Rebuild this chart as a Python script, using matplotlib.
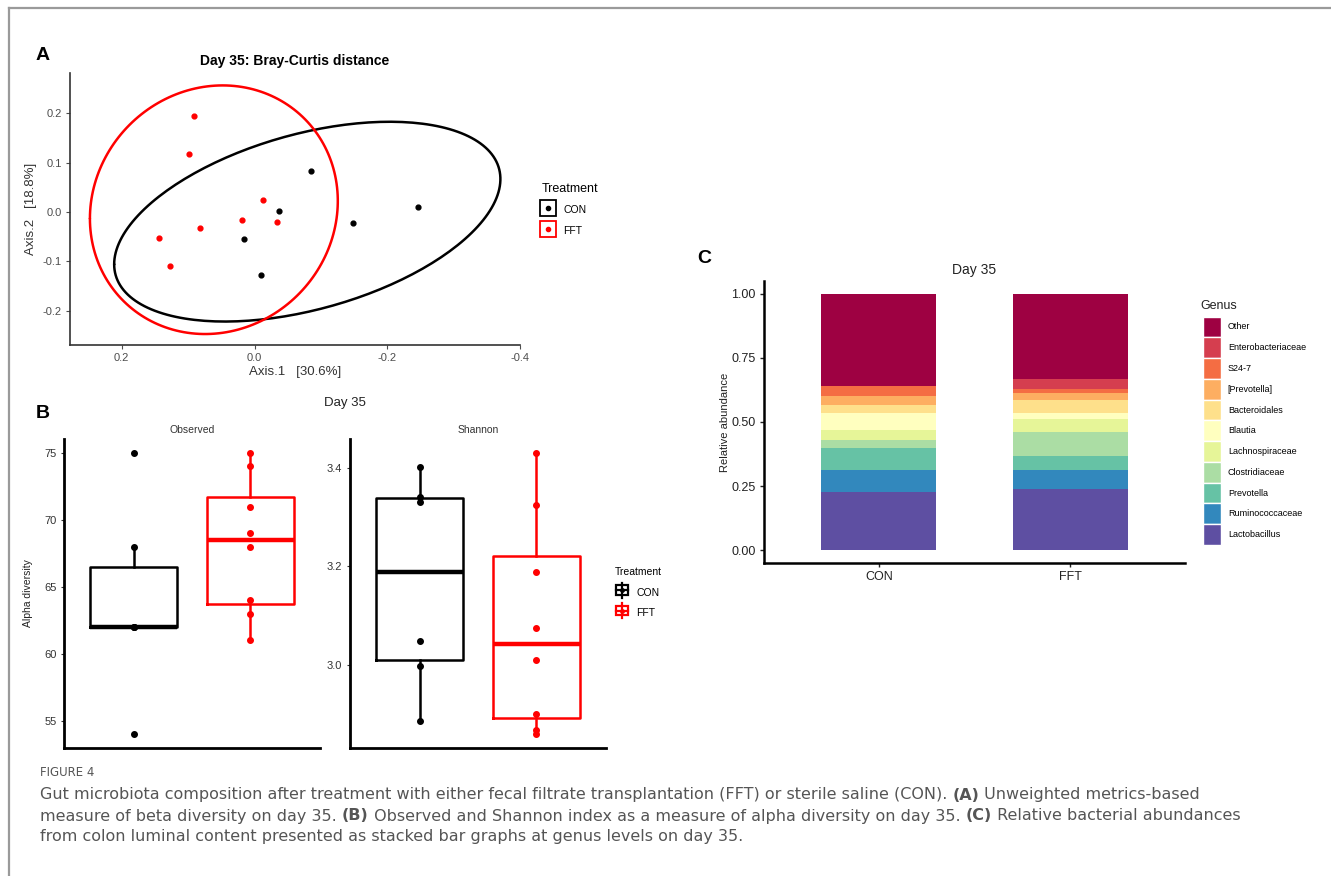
import numpy as np
import matplotlib
matplotlib.use('Agg')
import matplotlib.pyplot as plt
from matplotlib.lines import Line2D
from matplotlib.patches import Rectangle, Patch

plt.rcParams['font.family'] = ['Liberation Sans', 'DejaVu Sans']

W, H = 1331, 876

# ---- data ----
# panel A: PCoA coordinates (Axis.1, Axis.2)
con_ax1 = [-0.0844, -0.0362, 0.0151, -0.0101, -0.1487, -0.2457]
con_ax2 = [0.0831, 0.0020, -0.0554, -0.1277, -0.0216, 0.0095]
fft_ax1 = [0.0915, 0.0985, -0.0131, 0.0186, -0.0337, 0.0814, 0.1442, 0.1276]
fft_ax2 = [0.1950, 0.1176, 0.0250, -0.0155, -0.0210, -0.0318, -0.0520, -0.1095]

# panel B: alpha diversity
con_observed = [54, 62, 62, 62, 68, 75]
fft_observed = [61, 63, 64, 68, 69, 71, 74, 75]
con_shannon = [2.885, 2.997, 3.048, 3.331, 3.341, 3.402]
fft_shannon = [2.860, 2.868, 2.900, 3.010, 3.075, 3.188, 3.325, 3.431]

# panel C: relative abundance, stacked bottom -> top
genera = ['Lactobacillus', 'Ruminococcaceae', 'Prevotella', 'Clostridiaceae',
          'Lachnospiraceae', 'Blautia', 'Bacteroidales', '[Prevotella]',
          'S24-7', 'Enterobacteriaceae', 'Other']
con_abund = [0.228, 0.086, 0.086, 0.029, 0.041, 0.064, 0.031, 0.037, 0.038, 0.002, 0.358]
fft_abund = [0.239, 0.072, 0.058, 0.091, 0.051, 0.023, 0.052, 0.028, 0.016, 0.037, 0.333]
genus_colors = ['#5E4FA2', '#3288BD', '#66C2A5', '#ABDDA4', '#E6F598', '#FFFFBF',
                '#FEE08B', '#FDAE61', '#F46D43', '#D53E4F', '#9E0142']
groups = ['CON', 'FFT']
group_colors = ['black', 'red']


def box(l, t, r, b):
    return [l / W, 1 - b / H, (r - l) / W, (b - t) / H]


def cov_trob(xy, nu=5, maxit=25, tol=0.01):
    # multivariate t robust covariance (like MASS::cov.trob)
    n, p = xy.shape
    wt = np.ones(n)
    loc = xy.mean(0)
    w = np.sqrt(wt)
    for _ in range(maxit):
        w0 = w
        X = xy - loc
        _, d, vt = np.linalg.svd(np.sqrt(w / w.sum())[:, None] * X, full_matrices=False)
        wX = X @ vt.T @ np.diag(1 / d)
        Q = (wX ** 2).sum(1)
        w = wt * (nu + p) / (nu + Q)
        loc = (w[:, None] * xy).sum(0) / w.sum()
        if np.all(np.abs(w - w0) < tol):
            break
    sX = np.sqrt(w)[:, None] * X
    return loc, sX.T @ sX / wt.sum()


def t_ellipse(x, y, level=0.95, seg=200):
    xy = np.column_stack([x, y])
    loc, cov = cov_trob(xy)
    m = len(x) - 1
    qf = (m / 2) * ((1 - level) ** (-2 / m) - 1)
    r = np.sqrt(2 * qf)
    a = np.linspace(0, 2 * np.pi, seg)
    circ = np.column_stack([np.cos(a), np.sin(a)])
    R = np.linalg.cholesky(cov).T
    e = loc + r * circ @ R
    return e[:, 0], e[:, 1]


def style_axes(ax, lw, col):
    for s in ['top', 'right']:
        ax.spines[s].set_visible(False)
    for s in ['left', 'bottom']:
        ax.spines[s].set_linewidth(lw)
        ax.spines[s].set_color(col)


fig = plt.figure(figsize=(W / 100, H / 100), dpi=100)

# border of figure frame
fig.add_artist(Line2D([9 / W, 1], [1 - 8 / H, 1 - 8 / H], color='#9a9a9a', lw=1.6))
fig.add_artist(Line2D([9 / W, 9 / W], [1 - 8 / H, 0], color='#9a9a9a', lw=1.6))

# ---------- panel A ----------
axA = fig.add_axes(box(70, 73, 520, 345))
style_axes(axA, 1.2, '#333333')
for xs, ys, c in [(con_ax1, con_ax2, 'black'), (fft_ax1, fft_ax2, 'red')]:
    ex, ey = t_ellipse(xs, ys)
    axA.plot(ex, ey, color=c, lw=1.8, solid_capstyle='round')
    axA.scatter(xs, ys, s=12, color=c, zorder=3)
axA.set_xlim(0.278, -0.4)
axA.set_ylim(-0.269, 0.281)
axA.set_xticks([0.2, 0.0, -0.2, -0.4])
axA.set_xticklabels(['0.2', '0.0', '-0.2', '-0.4'])
axA.set_yticks([-0.2, -0.1, 0.0, 0.1, 0.2])
axA.set_yticklabels(['-0.2', '-0.1', '0.0', '0.1', '0.2'])
axA.tick_params(labelsize=8, colors='#4D4D4D', length=3, width=0.8, pad=3)
axA.set_xlabel('Axis.1   [30.6%]', fontsize=9.5, color='#333333', labelpad=2)
axA.set_ylabel('Axis.2   [18.8%]', fontsize=9.5, color='#333333', labelpad=4)
axA.set_title('Day 35: Bray-Curtis distance', fontsize=10, fontweight='bold', pad=6)
hA = [(Line2D([], [], ls='', marker='s', ms=11, mfc='none', mec=c, mew=1.3),
       Line2D([], [], ls='', marker='o', ms=3, color=c)) for c in group_colors]
legA = axA.legend(hA, groups, title='Treatment', loc='upper left',
                  bbox_to_anchor=(536 / W, 1 - 178 / H), bbox_transform=fig.transFigure,
                  frameon=False, fontsize=7.5, title_fontsize=9, handlelength=1.3,
                  handleheight=1.5, handletextpad=0.8, labelspacing=0.8, borderpad=0,
                  alignment='left')

fig.text(36 / W, 1 - 55 / H, 'A', fontsize=14, fontweight='bold', va='center')
fig.text(36 / W, 1 - 413 / H, 'B', fontsize=14, fontweight='bold', va='center')
fig.text(697 / W, 1 - 258 / H, 'C', fontsize=14, fontweight='bold', va='center')

# ---------- panel B ----------
fig.text(345 / W, 1 - 403 / H, 'Day 35', fontsize=9.5, ha='center', va='center', color='#222222')


def alpha_panel(rect, data, title, ylim, yticks, ylabels):
    ax = fig.add_axes(box(*rect))
    style_axes(ax, 2.0, 'black')
    for i, (vals, c) in enumerate(zip(data, group_colors)):
        ax.boxplot([vals], positions=[i + 1], widths=0.75, showcaps=False,
                   showfliers=False,
                   boxprops=dict(color=c, lw=1.8),
                   whiskerprops=dict(color=c, lw=1.8),
                   medianprops=dict(color=c, lw=3.2))
        ax.scatter([i + 1] * len(vals), vals, s=16, color=c, zorder=3)
    ax.set_xlim(0.4, 2.6)
    ax.set_ylim(*ylim)
    ax.set_xticks([])
    ax.set_yticks(yticks)
    ax.set_yticklabels(ylabels)
    ax.tick_params(axis='y', labelsize=8, colors='#333333', length=2.5, width=0.8, pad=3)
    ax.set_title(title, fontsize=7.5, color='#333333', pad=4)
    return ax


axB1 = alpha_panel((64, 439, 320, 748), [con_observed, fft_observed], 'Observed',
                   (52.95, 76.05), [55, 60, 65, 70, 75], ['55', '60', '65', '70', '75'])
axB1.set_ylabel('Alpha diversity', fontsize=7.5, color='#222222', labelpad=8)
axB2 = alpha_panel((350, 439, 606, 748), [con_shannon, fft_shannon], 'Shannon',
                   (2.8305, 3.4595), [3.0, 3.2, 3.4], ['3.0', '3.2', '3.4'])


class BoxKey:
    def legend_artist(self, legend, orig_handle, fontsize, handlebox):
        c = orig_handle.get_color()
        x0, y0 = handlebox.xdescent, handlebox.ydescent
        w, h = handlebox.width, handlebox.height
        tr = handlebox.get_transform()
        cx = x0 + w / 2
        vl = Line2D([cx, cx], [y0 - h * 0.3, y0 + h * 1.3], color=c, lw=1.6, transform=tr)
        rc = Rectangle((x0 + w * 0.05, y0), w * 0.9, h, fill=False,
                       ec=c, lw=1.6, transform=tr)
        hl = Line2D([x0 + w * 0.05, x0 + w * 0.95], [y0 + h / 2] * 2, color=c, lw=1.6, transform=tr)
        dt = Line2D([cx], [y0 + h / 2], marker='o', ms=2.5, color=c, transform=tr)
        for a in (vl, rc, hl, dt):
            handlebox.add_artist(a)
        return rc


hB = [Line2D([], [], color=c) for c in group_colors]
legB = axB2.legend(hB, groups, title='Treatment', loc='upper left',
                   bbox_to_anchor=(610 / W, 1 - 562 / H), bbox_transform=fig.transFigure,
                   frameon=False, fontsize=7.5, title_fontsize=7.5, handlelength=1.3,
                   handleheight=1.0, handletextpad=0.7, labelspacing=1.0, borderpad=0,
                   alignment='left', handler_map={Line2D: BoxKey()})

# ---------- panel C ----------
axC = fig.add_axes(box(764, 281, 1185, 563))
style_axes(axC, 1.8, 'black')
xpos = np.arange(1, len(groups) + 1)
bottom = np.zeros(len(groups))
for g, a_con, a_fft, col in zip(genera, con_abund, fft_abund, genus_colors):
    vals = np.array([a_con, a_fft])
    axC.bar(xpos, vals, width=0.6, bottom=bottom, color=col, label=g, lw=0)
    bottom += vals
axC.set_xlim(0.4, 2.6)
axC.set_ylim(-0.05, 1.05)
axC.set_xticks(xpos)
axC.set_xticklabels(groups)
axC.set_yticks([0, 0.25, 0.5, 0.75, 1.0])
axC.set_yticklabels(['0.00', '0.25', '0.50', '0.75', '1.00'])
axC.tick_params(labelsize=9, colors='#222222', length=3, width=1.0, pad=3)
axC.set_ylabel('Relative abundance', fontsize=8, color='#222222', labelpad=1)
axC.set_title('Day 35', fontsize=10, color='#222222', pad=5)
fig.text(1200 / W, 1 - 306 / H, 'Genus', fontsize=9, color='#222222', va='center')
hC = [Patch(facecolor=c, edgecolor='white', lw=1) for c in genus_colors[::-1]]
legC = axC.legend(hC, genera[::-1], loc='upper left',
                  bbox_to_anchor=(1198 / W, 1 - 312 / H), bbox_transform=fig.transFigure,
                  frameon=False, fontsize=6.5, handlelength=2.1,
                  handleheight=3.16, handletextpad=0.7, labelspacing=0.0, borderpad=0)

# ---------- caption ----------
cap_font = ['Liberation Sans Narrow', 'DejaVu Sans']
fig.text(40 / W, 1 - 772 / H, 'FIGURE 4', fontsize=8.5, color='#555555',
         family=cap_font, va='center')
cap_lines = [
    [('Gut microbiota composition after treatment with either fecal filtrate transplantation '
      '(FFT) or sterile saline (CON). ', 'normal'), ('(A)', 'bold'),
     (' Unweighted metrics-based', 'normal')],
    [('measure of beta diversity on day 35. ', 'normal'), ('(B)', 'bold'),
     (' Observed and Shannon index as a measure of alpha diversity on day 35. ', 'normal'),
     ('(C)', 'bold'), (' Relative bacterial abundances', 'normal')],
    [('from colon luminal content presented as stacked bar graphs at genus levels on day 35.',
      'normal')],
]
renderer = fig.canvas.get_renderer()
for k, parts in enumerate(cap_lines):
    x = 40
    y = 795 + 21 * k
    for txt, wt in parts:
        t = fig.text(x / W, 1 - y / H, txt, fontsize=11.5, color='#555555',
                     family=cap_font, fontweight=wt, va='center')
        x += t.get_window_extent(renderer).width

fig.savefig('out.png', dpi=100)
